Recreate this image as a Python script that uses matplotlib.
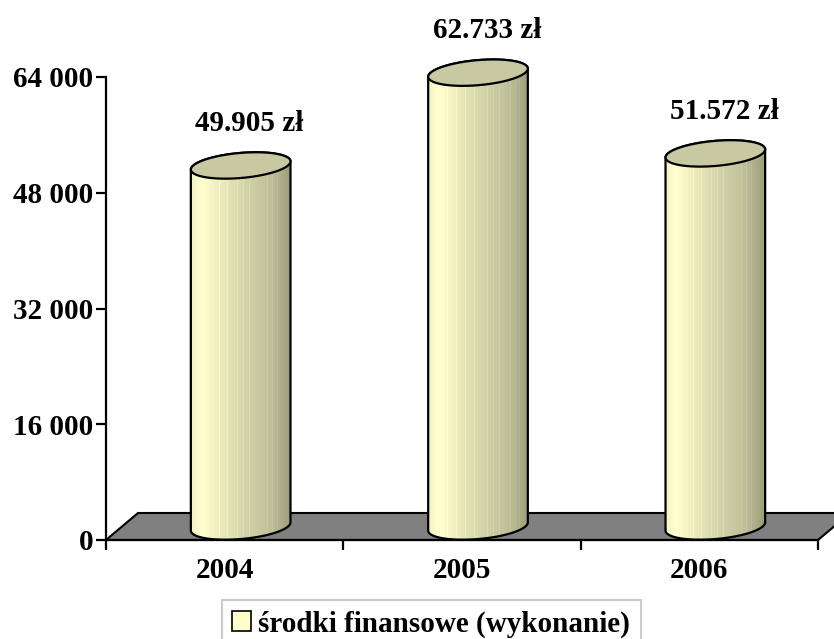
import numpy as np
import matplotlib
matplotlib.use('Agg')
import matplotlib.pyplot as plt
from matplotlib.patches import Polygon, Patch
from matplotlib.colors import LinearSegmentedColormap
from matplotlib.ticker import FuncFormatter

# data
years = ['2004', '2005', '2006']
values = [49905, 62733, 51572]
y_ticks = [0, 16000, 32000, 48000, 64000]
legend_label = 'środki finansowe (wykonanie)'

plt.rcParams['font.family'] = ['Liberation Serif', 'DejaVu Serif']
plt.rcParams['font.weight'] = 'bold'
FS = 21

W, H = 834, 639
# size of one pixel in data units (y axis: 0..64000 spans px 540..77)
px_x = 3 / (818 - 106)
px_y = 64000 / (540 - 77)

fig = plt.figure(figsize=(W / 100, H / 100), dpi=100)
ax = fig.add_axes([106 / W, 1 - 540 / H, (818 - 106) / W, 540 / H])
depth_x, depth_y = 32 * px_x, 27 * px_y

# floor
floor = Polygon([(-0.5, 0), (2.5, 0), (2.5 + depth_x, depth_y), (-0.5 + depth_x, depth_y)],
                closed=True, facecolor='#808080', edgecolor='black', lw=1.5,
                zorder=1, clip_on=False)
ax.add_patch(floor)

# cylinder shading
cmap = LinearSegmentedColormap.from_list('cyl', [
    (0.0, '#F0F0C0'), (0.12, '#FFFFD0'), (0.45, '#DCDCB0'),
    (0.8, '#BDBD98'), (1.0, '#9A9A78')])
shade = cmap(np.linspace(0, 1, 300))[:, :3]
for s in [0.2, 0.29, 0.37, 0.46, 0.52, 0.58, 0.64, 0.7, 0.75, 0.8, 0.85, 0.89, 0.93]:
    k = int(s * 300)
    shade[k:k + 2] = np.minimum(shade[k:k + 2] * 1.05, 1)
shade = shade[np.newaxis, :, :]

a, b, phi = 50.0, 12.5, np.deg2rad(5)
t0 = np.arctan2(-b * np.sin(phi), a * np.cos(phi))


def ellipse(cx, cy, t):
    ex = a * np.cos(t) * np.cos(phi) - b * np.sin(t) * np.sin(phi)
    ey = a * np.cos(t) * np.sin(phi) + b * np.sin(t) * np.cos(phi)
    return np.column_stack([cx + ex * px_x, cy + ey * px_y])


for i, v in enumerate(values):
    cx = i + depth_x / 2
    y0 = depth_y / 2
    y1 = v + depth_y / 2
    bottom = ellipse(cx, y0, np.linspace(t0 + np.pi, t0 + 2 * np.pi, 80))
    top_back = ellipse(cx, y1, np.linspace(t0, t0 + np.pi, 80))
    body = Polygon(np.vstack([bottom, top_back]), closed=True,
                   facecolor='none', edgecolor='black', lw=1.6, zorder=3)
    ax.add_patch(body)
    im = ax.imshow(shade, extent=[cx - 52 * px_x, cx + 52 * px_x, 0, y1 + 20 * px_y],
                   aspect='auto', zorder=2, interpolation='nearest')
    im.set_clip_path(body)
    cap = Polygon(ellipse(cx, y1, np.linspace(0, 2 * np.pi, 120)), closed=True,
                  facecolor='#C8C8A2', edgecolor='black', lw=1.6, zorder=4)
    ax.add_patch(cap)
    ax.text(cx + 9 * px_x, y1 + 42 * px_y, f'{v:,}'.replace(',', '.') + ' zł',
            ha='center', va='center', fontsize=FS, fontweight='bold')

ax.set_xlim(-0.5, 2.5)
ax.set_ylim(0, 540 * px_y)
ax.patch.set_visible(False)

# axes
for side in ['top', 'right']:
    ax.spines[side].set_visible(False)
for side in ['left', 'bottom']:
    ax.spines[side].set_linewidth(1.6)
    ax.spines[side].set_zorder(5)
ax.spines['left'].set_bounds(0, 64000)

ax.set_yticks(y_ticks)
ax.yaxis.set_major_formatter(FuncFormatter(lambda v, p: f'{v:,.0f}'.replace(',', ' ')))
ax.tick_params(axis='y', length=7, width=1.6, pad=2, labelsize=FS)
ax.set_xticks([-0.5, 0.5, 1.5, 2.5])
ax.set_xticklabels([])
ax.tick_params(axis='x', which='major', length=7, width=1.6)
ax.set_xticks([0, 1, 2], minor=True)
ax.set_xticklabels(years, minor=True)
ax.tick_params(axis='x', which='minor', length=0, pad=12, labelsize=FS)
for lbl in ax.get_yticklabels() + ax.get_xticklabels(minor=True):
    lbl.set_fontweight('bold')

leg = fig.legend(handles=[Patch(facecolor='#FFFFCC', edgecolor='black', lw=1.2)],
                 labels=[legend_label], loc='upper left',
                 bbox_to_anchor=(222 / W, 1 - 600 / H), borderaxespad=0,
                 frameon=True, fancybox=False, edgecolor='#BFBFBF',
                 handlelength=0.65, handleheight=0.65, handletextpad=0.25,
                 borderpad=0.35, prop={'size': FS, 'weight': 'bold'})
leg.get_frame().set_linewidth(1.5)

fig.savefig('out.png', dpi=100, facecolor='white')
